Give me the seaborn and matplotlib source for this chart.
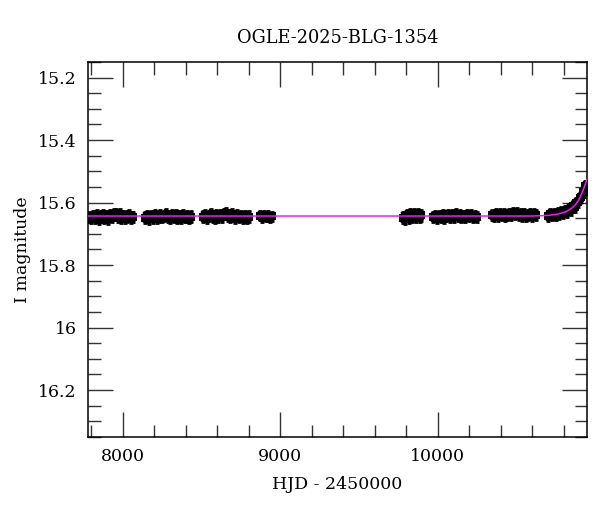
import numpy as np
import matplotlib
matplotlib.use("Agg")
import matplotlib.pyplot as plt
import seaborn as sns
import pandas as pd
from matplotlib.ticker import MultipleLocator

# observing seasons, HJD - 2450000 and I magnitude
t1 = [7786, 7798, 7810, 7822, 7834, 7846, 7858, 7870, 7882, 7894, 7906, 7918,
      7930, 7942, 7954, 7966, 7978, 7990, 8002, 8014, 8026, 8038, 8050, 8062]
m1 = [15.646, 15.649, 15.643, 15.647, 15.641, 15.650, 15.645, 15.640, 15.648, 15.644, 15.651, 15.642,
      15.646, 15.639, 15.636, 15.644, 15.638, 15.647, 15.643, 15.649, 15.645, 15.641, 15.648, 15.646]
t2 = [8142, 8154, 8166, 8178, 8190, 8202, 8214, 8226, 8238, 8250, 8262, 8274,
      8286, 8298, 8310, 8322, 8334, 8346, 8358, 8370, 8382, 8394, 8406, 8418, 8432]
m2 = [15.648, 15.645, 15.650, 15.643, 15.647, 15.642, 15.649, 15.644, 15.641, 15.646, 15.643, 15.639,
      15.645, 15.648, 15.642, 15.646, 15.641, 15.649, 15.644, 15.647, 15.642, 15.646, 15.644, 15.649, 15.645]
t3 = [8510, 8522, 8534, 8546, 8558, 8570, 8582, 8594, 8606, 8618, 8630, 8642,
      8654, 8666, 8678, 8690, 8702, 8714, 8726, 8738, 8750, 8762, 8774, 8786, 8800]
m3 = [15.645, 15.641, 15.647, 15.643, 15.639, 15.645, 15.648, 15.642, 15.644, 15.640, 15.646, 15.637,
      15.634, 15.641, 15.645, 15.638, 15.643, 15.647, 15.641, 15.646, 15.643, 15.648, 15.644, 15.647, 15.645]
t4 = [8872, 8884, 8896, 8908, 8920, 8932, 8944]
m4 = [15.642, 15.646, 15.641, 15.645, 15.643, 15.647, 15.644]
t5 = [9780, 9790, 9802, 9814, 9826, 9838, 9850, 9862, 9874, 9886, 9896]
m5 = [15.648, 15.652, 15.641, 15.646, 15.637, 15.643, 15.640, 15.645, 15.638, 15.644, 15.641]
t6 = [9970, 9982, 9994, 10006, 10018, 10030, 10042, 10054, 10066, 10078, 10090, 10102,
      10114, 10126, 10138, 10150, 10162, 10174, 10186, 10198, 10210, 10222, 10234, 10250]
m6 = [15.647, 15.644, 15.649, 15.642, 15.646, 15.641, 15.648, 15.643, 15.639, 15.645, 15.641, 15.646,
      15.638, 15.644, 15.640, 15.645, 15.642, 15.647, 15.640, 15.644, 15.641, 15.646, 15.643, 15.645]
t7 = [10345, 10357, 10369, 10381, 10393, 10405, 10417, 10429, 10441, 10453, 10465, 10477,
      10489, 10501, 10513, 10525, 10537, 10549, 10561, 10573, 10585, 10597, 10609, 10625]
m7 = [15.640, 15.643, 15.638, 15.642, 15.636, 15.641, 15.637, 15.643, 15.639, 15.635, 15.640, 15.633,
      15.638, 15.634, 15.640, 15.636, 15.642, 15.637, 15.643, 15.639, 15.636, 15.642, 15.638, 15.641]
t8 = [10700, 10712, 10724, 10736, 10748, 10760, 10772, 10784, 10796, 10808, 10820, 10832,
      10844, 10856, 10868, 10880, 10890, 10900, 10910, 10920, 10928, 10936, 10942]
m8 = [15.643, 15.638, 15.641, 15.636, 15.639, 15.634, 15.637, 15.631, 15.634, 15.627, 15.629, 15.620,
      15.624, 15.612, 15.613, 15.600, 15.599, 15.586, 15.583, 15.566, 15.565, 15.548, 15.546]
season_t = [t1, t2, t3, t4, t5, t6, t7, t8]
season_m = [m1, m2, m3, m4, m5, m6, m7, m8]
season_err = [0.017, 0.017, 0.017, 0.015, 0.018, 0.016, 0.016, 0.016]

# microlensing model curve (magenta)
model_t = [7760, 10600, 10700, 10760, 10810, 10850, 10875, 10895, 10915, 10930, 10946]
model_m = [15.643, 15.643, 15.641, 15.637, 15.630, 15.618, 15.606, 15.591, 15.570, 15.550, 15.527]

title = "OGLE-2025-BLG-1354"

frames = []
for t, m, e in zip(season_t, season_m, season_err):
    frames.append(pd.DataFrame({"hjd": t, "mag": m, "err": e}))
df = pd.concat(frames, ignore_index=True)
model = pd.DataFrame({"hjd": model_t, "mag": model_m})

sns.set_style("ticks")
plt.rcParams["font.family"] = ["DejaVu Serif"]

fig = plt.figure(figsize=(6.0, 5.12), dpi=100)
ax = fig.add_axes([0.1467, 0.1465, 0.8313, 0.7325])

ax.errorbar(df["hjd"], df["mag"], yerr=df["err"], fmt="none",
            ecolor="black", elinewidth=3.2, capsize=1.5, capthick=2.0, zorder=2)
sns.scatterplot(data=df, x="hjd", y="mag", ax=ax, color="black", marker="s",
                s=40, edgecolor="black", linewidth=0, zorder=3)
sns.lineplot(data=model, x="hjd", y="mag", ax=ax, color="#ff11ff", lw=1.1,
             sort=False, zorder=4)

ax.set_xlim(7778, 10946)
ax.set_ylim(16.35, 15.15)

ax.xaxis.set_major_locator(MultipleLocator(1000))
ax.xaxis.set_minor_locator(MultipleLocator(200))
ax.yaxis.set_minor_locator(MultipleLocator(0.05))
ax.set_yticks([15.2, 15.4, 15.6, 15.8, 16.0, 16.2])
ax.set_yticklabels(["15.2", "15.4", "15.6", "15.8", "16", "16.2"])

ax.tick_params(which="both", direction="in", top=True, right=True,
               labelsize=12.5, labelcolor="black", color="#333333", width=1.0)
ax.tick_params(which="major", length=18, pad=8)
ax.tick_params(which="minor", length=9)
for sp in ax.spines.values():
    sp.set_linewidth(1.1)
    sp.set_color("black")

ax.set_xlabel("HJD - 2450000", fontsize=12.5, color="black", labelpad=8)
ax.set_ylabel("I magnitude", fontsize=12.5, color="black", labelpad=5)
ax.set_title(title, fontsize=12.8, color="black", pad=14)

fig.savefig("out.png", dpi=100)
